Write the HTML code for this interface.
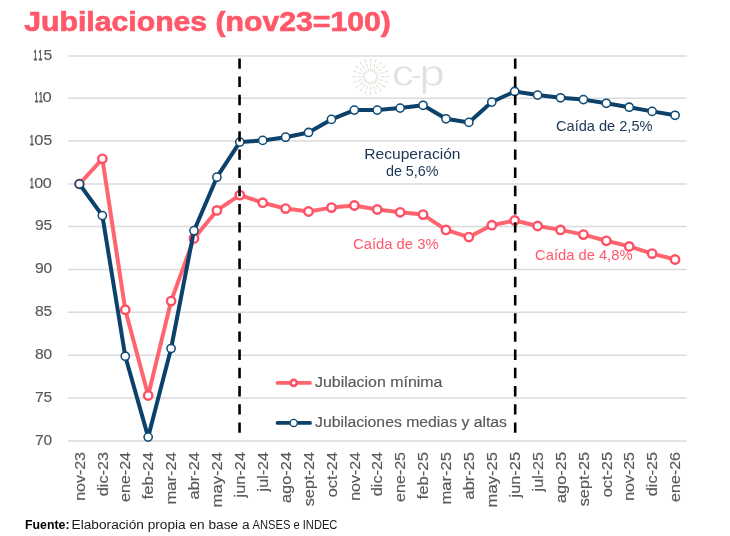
<!DOCTYPE html>
<html lang="es"><head><meta charset="utf-8"><title>Jubilaciones (nov23=100)</title>
<style>html,body{margin:0;padding:0;background:#fff}body{width:730px;height:536px;overflow:hidden}svg{display:block}</style></head>
<body>
<svg width="730" height="536" viewBox="0 0 730 536" font-family="Liberation Sans, sans-serif">
<rect width="730" height="536" fill="#fff"/>
<line x1="68.0" x2="686.7" y1="55.90" y2="55.90" stroke="#DBDBDB" stroke-width="1.5"/>
<text y="59.80" font-size="14" fill="#595959" stroke="#595959" stroke-width="0.15"><tspan x="33.62" textLength="3.65" lengthAdjust="spacingAndGlyphs" stroke-width="0.75">1</tspan><tspan x="38.49" textLength="3.81" lengthAdjust="spacingAndGlyphs" stroke-width="0.75">1</tspan><tspan x="43.53" textLength="8.73" lengthAdjust="spacingAndGlyphs">5</tspan></text>
<line x1="68.0" x2="686.7" y1="98.25" y2="98.25" stroke="#DBDBDB" stroke-width="1.5"/>
<text y="102.15" font-size="14" fill="#595959" stroke="#595959" stroke-width="0.15"><tspan x="34.85" textLength="3.50" lengthAdjust="spacingAndGlyphs" stroke-width="0.75">1</tspan><tspan x="39.02" textLength="3.65" lengthAdjust="spacingAndGlyphs" stroke-width="0.75">1</tspan><tspan x="42.59" textLength="9.20" lengthAdjust="spacingAndGlyphs">0</tspan></text>
<line x1="68.0" x2="686.7" y1="141.00" y2="141.00" stroke="#DBDBDB" stroke-width="1.5"/>
<text y="144.90" font-size="14" fill="#595959" stroke="#595959" stroke-width="0.15"><tspan x="30.02" textLength="3.65" lengthAdjust="spacingAndGlyphs" stroke-width="0.75">1</tspan><tspan x="34.19" textLength="9.20" lengthAdjust="spacingAndGlyphs">0</tspan><tspan x="43.53" textLength="8.73" lengthAdjust="spacingAndGlyphs">5</tspan></text>
<line x1="68.0" x2="686.7" y1="184.00" y2="184.00" stroke="#DBDBDB" stroke-width="1.5"/>
<text y="187.90" font-size="14" fill="#595959" stroke="#595959" stroke-width="0.15"><tspan x="30.02" textLength="3.65" lengthAdjust="spacingAndGlyphs" stroke-width="0.75">1</tspan><tspan x="34.21" textLength="8.97" lengthAdjust="spacingAndGlyphs">0</tspan><tspan x="42.81" textLength="8.97" lengthAdjust="spacingAndGlyphs">0</tspan></text>
<line x1="68.0" x2="686.7" y1="226.50" y2="226.50" stroke="#DBDBDB" stroke-width="1.5"/>
<text y="230.40" font-size="14" fill="#595959" stroke="#595959" stroke-width="0.15"><tspan x="34.93" textLength="8.73" lengthAdjust="spacingAndGlyphs">9</tspan><tspan x="43.44" textLength="8.61" lengthAdjust="spacingAndGlyphs">5</tspan></text>
<line x1="68.0" x2="686.7" y1="269.50" y2="269.50" stroke="#DBDBDB" stroke-width="1.5"/>
<text y="273.40" font-size="14" fill="#595959" stroke="#595959" stroke-width="0.15"><tspan x="34.93" textLength="8.73" lengthAdjust="spacingAndGlyphs">9</tspan><tspan x="43.44" textLength="8.61" lengthAdjust="spacingAndGlyphs">0</tspan></text>
<line x1="68.0" x2="686.7" y1="312.30" y2="312.30" stroke="#DBDBDB" stroke-width="1.5"/>
<text y="316.20" font-size="14" fill="#595959" stroke="#595959" stroke-width="0.15"><tspan x="34.93" textLength="8.73" lengthAdjust="spacingAndGlyphs">8</tspan><tspan x="43.44" textLength="8.61" lengthAdjust="spacingAndGlyphs">5</tspan></text>
<line x1="68.0" x2="686.7" y1="355.20" y2="355.20" stroke="#DBDBDB" stroke-width="1.5"/>
<text y="359.10" font-size="14" fill="#595959" stroke="#595959" stroke-width="0.15"><tspan x="34.93" textLength="8.73" lengthAdjust="spacingAndGlyphs">8</tspan><tspan x="43.44" textLength="8.61" lengthAdjust="spacingAndGlyphs">0</tspan></text>
<line x1="68.0" x2="686.7" y1="398.10" y2="398.10" stroke="#DBDBDB" stroke-width="1.5"/>
<text y="402.00" font-size="14" fill="#595959" stroke="#595959" stroke-width="0.15"><tspan x="34.93" textLength="8.73" lengthAdjust="spacingAndGlyphs">7</tspan><tspan x="43.44" textLength="8.61" lengthAdjust="spacingAndGlyphs">5</tspan></text>
<line x1="68.0" x2="686.7" y1="441.00" y2="441.00" stroke="#DBDBDB" stroke-width="1.5"/>
<text y="444.90" font-size="14" fill="#595959" stroke="#595959" stroke-width="0.15"><tspan x="34.93" textLength="8.73" lengthAdjust="spacingAndGlyphs">7</tspan><tspan x="43.44" textLength="8.61" lengthAdjust="spacingAndGlyphs">0</tspan></text>
<g stroke="#E5E1DA" stroke-width="1.15" stroke-dasharray="3 1.5 3.5 1.5 3.6 9"><line x1="370.60" y1="81.90" x2="370.60" y2="95.00"/><line x1="368.96" y1="81.64" x2="364.91" y2="94.10"/><line x1="367.48" y1="80.89" x2="359.78" y2="91.49"/><line x1="366.31" y1="79.72" x2="355.71" y2="87.42"/><line x1="365.56" y1="78.24" x2="353.10" y2="82.29"/><line x1="365.30" y1="76.60" x2="352.20" y2="76.60"/><line x1="365.56" y1="74.96" x2="353.10" y2="70.91"/><line x1="366.31" y1="73.48" x2="355.71" y2="65.78"/><line x1="367.48" y1="72.31" x2="359.78" y2="61.71"/><line x1="368.96" y1="71.56" x2="364.91" y2="59.10"/><line x1="370.60" y1="71.30" x2="370.60" y2="58.20"/><line x1="372.24" y1="71.56" x2="376.29" y2="59.10"/><line x1="373.72" y1="72.31" x2="381.42" y2="61.71"/><line x1="374.89" y1="73.48" x2="385.49" y2="65.78"/><line x1="375.64" y1="74.96" x2="388.10" y2="70.91"/><line x1="375.90" y1="76.60" x2="389.00" y2="76.60"/><line x1="375.64" y1="78.24" x2="388.10" y2="82.29"/><line x1="374.89" y1="79.72" x2="385.49" y2="87.42"/><line x1="373.72" y1="80.89" x2="381.42" y2="91.49"/><line x1="372.24" y1="81.64" x2="376.29" y2="94.10"/></g>
<g fill="#E2E0DB" stroke="#fff" stroke-width="0.55">
<text x="391.8" y="86.3" font-size="37.6" textLength="22.3" lengthAdjust="spacingAndGlyphs">c</text>
<text x="411.2" y="82.7" font-size="22" textLength="10.2" lengthAdjust="spacingAndGlyphs" stroke="none">-</text>
<text x="419.2" y="86.3" font-size="37.6" textLength="25.6" lengthAdjust="spacingAndGlyphs">p</text>
</g>
<text x="364.3" y="159" font-size="14.5" fill="#1C3557" textLength="96.2" lengthAdjust="spacingAndGlyphs">Recuperación</text>
<text x="385.9" y="175.8" font-size="14.5" fill="#1C3557" textLength="52.7" lengthAdjust="spacingAndGlyphs">de 5,6%</text>
<text x="353" y="248.6" font-size="14.5" fill="#FF5869" textLength="85.6" lengthAdjust="spacingAndGlyphs">Caída de 3%</text>
<text x="556" y="131" font-size="14.5" fill="#1C3557" textLength="96.5" lengthAdjust="spacingAndGlyphs">Caída de 2,5%</text>
<text x="535.1" y="260.2" font-size="14.5" fill="#FF5869" textLength="97.4" lengthAdjust="spacingAndGlyphs">Caída de 4,8%</text>
<line x1="277.5" x2="310" y1="382.9" y2="382.9" stroke="#FF656F" stroke-width="3.8" stroke-linecap="round"/>
<circle cx="293.7" cy="382.9" r="3.1" fill="#fff" stroke="#FF4F65" stroke-width="2.6"/>
<text x="315" y="386.8" font-size="14" fill="#595959" stroke="#595959" stroke-width="0.15" textLength="127.5" lengthAdjust="spacingAndGlyphs">Jubilacion mínima</text>
<line x1="277.5" x2="310" y1="422.9" y2="422.9" stroke="#0B416A" stroke-width="3.8" stroke-linecap="round"/>
<circle cx="293.7" cy="422.9" r="3.6" fill="#fff" stroke="#0F4A75" stroke-width="1.3"/>
<text x="315" y="426.8" font-size="14" fill="#595959" stroke="#595959" stroke-width="0.15" textLength="192" lengthAdjust="spacingAndGlyphs">Jubilaciones medias y altas</text>
<polyline points="79.45,184.00 102.36,158.80 125.27,309.70 148.18,395.50 171.08,301.10 193.99,238.40 216.90,210.40 239.81,195.10 262.71,202.70 285.62,208.60 308.53,211.50 331.44,207.60 354.34,205.50 377.25,209.50 400.16,212.30 423.06,214.60 445.97,229.90 468.88,237.05 491.79,225.20 514.69,220.50 537.60,226.00 560.51,229.90 583.42,234.60 606.32,240.80 629.23,246.40 652.14,253.60 675.05,259.50" fill="none" stroke="#FF656F" stroke-width="4" stroke-linejoin="round" stroke-linecap="round"/>
<circle cx="79.45" cy="184.00" r="4.2" fill="#fff" stroke="#FF4F65" stroke-width="2.4"/>
<circle cx="102.36" cy="158.80" r="4.2" fill="#fff" stroke="#FF4F65" stroke-width="2.4"/>
<circle cx="125.27" cy="309.70" r="4.2" fill="#fff" stroke="#FF4F65" stroke-width="2.4"/>
<circle cx="148.18" cy="395.50" r="4.2" fill="#fff" stroke="#FF4F65" stroke-width="2.4"/>
<circle cx="171.08" cy="301.10" r="4.2" fill="#fff" stroke="#FF4F65" stroke-width="2.4"/>
<circle cx="193.99" cy="238.40" r="4.2" fill="#fff" stroke="#FF4F65" stroke-width="2.4"/>
<circle cx="216.90" cy="210.40" r="4.2" fill="#fff" stroke="#FF4F65" stroke-width="2.4"/>
<circle cx="239.81" cy="195.10" r="4.2" fill="#fff" stroke="#FF4F65" stroke-width="2.4"/>
<circle cx="262.71" cy="202.70" r="4.2" fill="#fff" stroke="#FF4F65" stroke-width="2.4"/>
<circle cx="285.62" cy="208.60" r="4.2" fill="#fff" stroke="#FF4F65" stroke-width="2.4"/>
<circle cx="308.53" cy="211.50" r="4.2" fill="#fff" stroke="#FF4F65" stroke-width="2.4"/>
<circle cx="331.44" cy="207.60" r="4.2" fill="#fff" stroke="#FF4F65" stroke-width="2.4"/>
<circle cx="354.34" cy="205.50" r="4.2" fill="#fff" stroke="#FF4F65" stroke-width="2.4"/>
<circle cx="377.25" cy="209.50" r="4.2" fill="#fff" stroke="#FF4F65" stroke-width="2.4"/>
<circle cx="400.16" cy="212.30" r="4.2" fill="#fff" stroke="#FF4F65" stroke-width="2.4"/>
<circle cx="423.06" cy="214.60" r="4.2" fill="#fff" stroke="#FF4F65" stroke-width="2.4"/>
<circle cx="445.97" cy="229.90" r="4.2" fill="#fff" stroke="#FF4F65" stroke-width="2.4"/>
<circle cx="468.88" cy="237.05" r="4.2" fill="#fff" stroke="#FF4F65" stroke-width="2.4"/>
<circle cx="491.79" cy="225.20" r="4.2" fill="#fff" stroke="#FF4F65" stroke-width="2.4"/>
<circle cx="514.69" cy="220.50" r="4.2" fill="#fff" stroke="#FF4F65" stroke-width="2.4"/>
<circle cx="537.60" cy="226.00" r="4.2" fill="#fff" stroke="#FF4F65" stroke-width="2.4"/>
<circle cx="560.51" cy="229.90" r="4.2" fill="#fff" stroke="#FF4F65" stroke-width="2.4"/>
<circle cx="583.42" cy="234.60" r="4.2" fill="#fff" stroke="#FF4F65" stroke-width="2.4"/>
<circle cx="606.32" cy="240.80" r="4.2" fill="#fff" stroke="#FF4F65" stroke-width="2.4"/>
<circle cx="629.23" cy="246.40" r="4.2" fill="#fff" stroke="#FF4F65" stroke-width="2.4"/>
<circle cx="652.14" cy="253.60" r="4.2" fill="#fff" stroke="#FF4F65" stroke-width="2.4"/>
<circle cx="675.05" cy="259.50" r="4.2" fill="#fff" stroke="#FF4F65" stroke-width="2.4"/>
<polyline points="79.45,184.00 102.36,215.60 125.27,356.20 148.18,437.10 171.08,348.50 193.99,230.70 216.90,177.20 239.81,142.10 262.71,140.40 285.62,137.20 308.53,132.50 331.44,119.40 354.34,110.10 377.25,110.10 400.16,108.10 423.06,105.30 445.97,118.80 468.88,122.40 491.79,102.05 514.69,91.45 537.60,95.10 560.51,97.75 583.42,99.60 606.32,103.30 629.23,107.20 652.14,111.40 675.05,115.30" fill="none" stroke="#0B416A" stroke-width="4" stroke-linejoin="round" stroke-linecap="round"/>
<circle cx="79.45" cy="184.00" r="4.1" fill="#fff" stroke="#0F4A75" stroke-width="1.55"/>
<circle cx="102.36" cy="215.60" r="4.1" fill="#fff" stroke="#0F4A75" stroke-width="1.55"/>
<circle cx="125.27" cy="356.20" r="4.1" fill="#fff" stroke="#0F4A75" stroke-width="1.55"/>
<circle cx="148.18" cy="437.10" r="4.1" fill="#fff" stroke="#0F4A75" stroke-width="1.55"/>
<circle cx="171.08" cy="348.50" r="4.1" fill="#fff" stroke="#0F4A75" stroke-width="1.55"/>
<circle cx="193.99" cy="230.70" r="4.1" fill="#fff" stroke="#0F4A75" stroke-width="1.55"/>
<circle cx="216.90" cy="177.20" r="4.1" fill="#fff" stroke="#0F4A75" stroke-width="1.55"/>
<circle cx="239.81" cy="142.10" r="4.1" fill="#fff" stroke="#0F4A75" stroke-width="1.55"/>
<circle cx="262.71" cy="140.40" r="4.1" fill="#fff" stroke="#0F4A75" stroke-width="1.55"/>
<circle cx="285.62" cy="137.20" r="4.1" fill="#fff" stroke="#0F4A75" stroke-width="1.55"/>
<circle cx="308.53" cy="132.50" r="4.1" fill="#fff" stroke="#0F4A75" stroke-width="1.55"/>
<circle cx="331.44" cy="119.40" r="4.1" fill="#fff" stroke="#0F4A75" stroke-width="1.55"/>
<circle cx="354.34" cy="110.10" r="4.1" fill="#fff" stroke="#0F4A75" stroke-width="1.55"/>
<circle cx="377.25" cy="110.10" r="4.1" fill="#fff" stroke="#0F4A75" stroke-width="1.55"/>
<circle cx="400.16" cy="108.10" r="4.1" fill="#fff" stroke="#0F4A75" stroke-width="1.55"/>
<circle cx="423.06" cy="105.30" r="4.1" fill="#fff" stroke="#0F4A75" stroke-width="1.55"/>
<circle cx="445.97" cy="118.80" r="4.1" fill="#fff" stroke="#0F4A75" stroke-width="1.55"/>
<circle cx="468.88" cy="122.40" r="4.1" fill="#fff" stroke="#0F4A75" stroke-width="1.55"/>
<circle cx="491.79" cy="102.05" r="4.1" fill="#fff" stroke="#0F4A75" stroke-width="1.55"/>
<circle cx="514.69" cy="91.45" r="4.1" fill="#fff" stroke="#0F4A75" stroke-width="1.55"/>
<circle cx="537.60" cy="95.10" r="4.1" fill="#fff" stroke="#0F4A75" stroke-width="1.55"/>
<circle cx="560.51" cy="97.75" r="4.1" fill="#fff" stroke="#0F4A75" stroke-width="1.55"/>
<circle cx="583.42" cy="99.60" r="4.1" fill="#fff" stroke="#0F4A75" stroke-width="1.55"/>
<circle cx="606.32" cy="103.30" r="4.1" fill="#fff" stroke="#0F4A75" stroke-width="1.55"/>
<circle cx="629.23" cy="107.20" r="4.1" fill="#fff" stroke="#0F4A75" stroke-width="1.55"/>
<circle cx="652.14" cy="111.40" r="4.1" fill="#fff" stroke="#0F4A75" stroke-width="1.55"/>
<circle cx="675.05" cy="115.30" r="4.1" fill="#fff" stroke="#0F4A75" stroke-width="1.55"/>
<line x1="239.55" x2="239.55" y1="58.4" y2="432.8" stroke="#000" stroke-width="2.6" stroke-dasharray="10.4 7.8"/>
<line x1="515.2" x2="515.2" y1="58.4" y2="432.8" stroke="#000" stroke-width="2.6" stroke-dasharray="10.4 7.8"/>
<text transform="translate(84.65,500.80) rotate(-90)" font-size="14.5" fill="#595959" stroke="#595959" stroke-width="0.15" textLength="48.8" lengthAdjust="spacingAndGlyphs">nov-23</text>
<text transform="translate(107.56,496.20) rotate(-90)" font-size="14.5" fill="#595959" stroke="#595959" stroke-width="0.15" textLength="44.2" lengthAdjust="spacingAndGlyphs">dic-23</text>
<text transform="translate(130.47,501.90) rotate(-90)" font-size="14.5" fill="#595959" stroke="#595959" stroke-width="0.15" textLength="49.9" lengthAdjust="spacingAndGlyphs">ene-24</text>
<text transform="translate(153.38,499.50) rotate(-90)" font-size="14.5" fill="#595959" stroke="#595959" stroke-width="0.15" textLength="47.5" lengthAdjust="spacingAndGlyphs">feb-24</text>
<text transform="translate(176.28,504.50) rotate(-90)" font-size="14.5" fill="#595959" stroke="#595959" stroke-width="0.15" textLength="52.5" lengthAdjust="spacingAndGlyphs">mar-24</text>
<text transform="translate(199.19,499.50) rotate(-90)" font-size="14.5" fill="#595959" stroke="#595959" stroke-width="0.15" textLength="47.5" lengthAdjust="spacingAndGlyphs">abr-24</text>
<text transform="translate(222.10,507.40) rotate(-90)" font-size="14.5" fill="#595959" stroke="#595959" stroke-width="0.15" textLength="55.4" lengthAdjust="spacingAndGlyphs">may-24</text>
<text transform="translate(245.01,497.50) rotate(-90)" font-size="14.5" fill="#595959" stroke="#595959" stroke-width="0.15" textLength="45.5" lengthAdjust="spacingAndGlyphs">jun-24</text>
<text transform="translate(267.91,491.40) rotate(-90)" font-size="14.5" fill="#595959" stroke="#595959" stroke-width="0.15" textLength="39.4" lengthAdjust="spacingAndGlyphs">jul-24</text>
<text transform="translate(290.82,503.00) rotate(-90)" font-size="14.5" fill="#595959" stroke="#595959" stroke-width="0.15" textLength="51.0" lengthAdjust="spacingAndGlyphs">ago-24</text>
<text transform="translate(313.73,506.30) rotate(-90)" font-size="14.5" fill="#595959" stroke="#595959" stroke-width="0.15" textLength="54.3" lengthAdjust="spacingAndGlyphs">sept-24</text>
<text transform="translate(336.64,497.30) rotate(-90)" font-size="14.5" fill="#595959" stroke="#595959" stroke-width="0.15" textLength="45.3" lengthAdjust="spacingAndGlyphs">oct-24</text>
<text transform="translate(359.54,500.80) rotate(-90)" font-size="14.5" fill="#595959" stroke="#595959" stroke-width="0.15" textLength="48.8" lengthAdjust="spacingAndGlyphs">nov-24</text>
<text transform="translate(382.45,496.20) rotate(-90)" font-size="14.5" fill="#595959" stroke="#595959" stroke-width="0.15" textLength="44.2" lengthAdjust="spacingAndGlyphs">dic-24</text>
<text transform="translate(405.36,501.90) rotate(-90)" font-size="14.5" fill="#595959" stroke="#595959" stroke-width="0.15" textLength="49.9" lengthAdjust="spacingAndGlyphs">ene-25</text>
<text transform="translate(428.26,499.50) rotate(-90)" font-size="14.5" fill="#595959" stroke="#595959" stroke-width="0.15" textLength="47.5" lengthAdjust="spacingAndGlyphs">feb-25</text>
<text transform="translate(451.17,504.50) rotate(-90)" font-size="14.5" fill="#595959" stroke="#595959" stroke-width="0.15" textLength="52.5" lengthAdjust="spacingAndGlyphs">mar-25</text>
<text transform="translate(474.08,499.50) rotate(-90)" font-size="14.5" fill="#595959" stroke="#595959" stroke-width="0.15" textLength="47.5" lengthAdjust="spacingAndGlyphs">abr-25</text>
<text transform="translate(496.99,507.40) rotate(-90)" font-size="14.5" fill="#595959" stroke="#595959" stroke-width="0.15" textLength="55.4" lengthAdjust="spacingAndGlyphs">may-25</text>
<text transform="translate(519.89,497.50) rotate(-90)" font-size="14.5" fill="#595959" stroke="#595959" stroke-width="0.15" textLength="45.5" lengthAdjust="spacingAndGlyphs">jun-25</text>
<text transform="translate(542.80,491.40) rotate(-90)" font-size="14.5" fill="#595959" stroke="#595959" stroke-width="0.15" textLength="39.4" lengthAdjust="spacingAndGlyphs">jul-25</text>
<text transform="translate(565.71,503.00) rotate(-90)" font-size="14.5" fill="#595959" stroke="#595959" stroke-width="0.15" textLength="51.0" lengthAdjust="spacingAndGlyphs">ago-25</text>
<text transform="translate(588.62,506.30) rotate(-90)" font-size="14.5" fill="#595959" stroke="#595959" stroke-width="0.15" textLength="54.3" lengthAdjust="spacingAndGlyphs">sept-25</text>
<text transform="translate(611.52,497.30) rotate(-90)" font-size="14.5" fill="#595959" stroke="#595959" stroke-width="0.15" textLength="45.3" lengthAdjust="spacingAndGlyphs">oct-25</text>
<text transform="translate(634.43,500.80) rotate(-90)" font-size="14.5" fill="#595959" stroke="#595959" stroke-width="0.15" textLength="48.8" lengthAdjust="spacingAndGlyphs">nov-25</text>
<text transform="translate(657.34,496.20) rotate(-90)" font-size="14.5" fill="#595959" stroke="#595959" stroke-width="0.15" textLength="44.2" lengthAdjust="spacingAndGlyphs">dic-25</text>
<text transform="translate(680.25,501.90) rotate(-90)" font-size="14.5" fill="#595959" stroke="#595959" stroke-width="0.15" textLength="49.9" lengthAdjust="spacingAndGlyphs">ene-26</text>
<text x="24.3" y="30.7" font-size="28" font-weight="bold" fill="#FF5869" stroke="#FF5869" stroke-width="0.7" stroke-linejoin="round" textLength="366.6" lengthAdjust="spacingAndGlyphs">Jubilaciones (nov23=100)</text>
<text x="25" y="529" font-size="12" font-weight="bold" fill="#000" textLength="44.5" lengthAdjust="spacingAndGlyphs">Fuente:</text>
<text y="529" font-size="12" fill="#1a1a1a"><tspan x="71.6" textLength="178" lengthAdjust="spacingAndGlyphs">Elaboración propia en base a</tspan> <tspan x="252.6" textLength="84.8" lengthAdjust="spacingAndGlyphs">ANSES e INDEC</tspan></text>
</svg>
</body></html>
